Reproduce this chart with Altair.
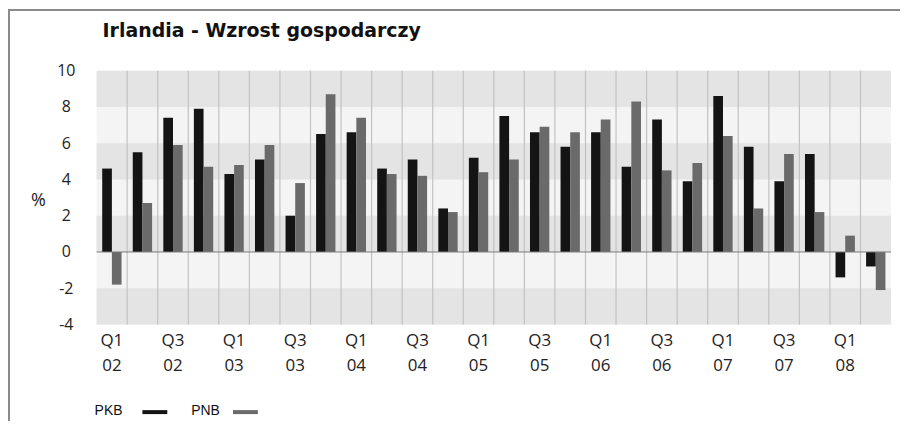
import altair as alt
import pandas as pd

# ---- data ----
quarters = ["Q1 02", "Q2 02", "Q3 02", "Q4 02",
            "Q1 03", "Q2 03", "Q3 03", "Q4 03",
            "Q1 04", "Q2 04", "Q3 04", "Q4 04",
            "Q1 05", "Q2 05", "Q3 05", "Q4 05",
            "Q1 06", "Q2 06", "Q3 06", "Q4 06",
            "Q1 07", "Q2 07", "Q3 07", "Q4 07",
            "Q1 08", "Q2 08"]
pkb = [4.6, 5.5, 7.4, 7.9, 4.3, 5.1, 2.0, 6.5, 6.6, 4.6, 5.1, 2.4,
       5.2, 7.5, 6.6, 5.8, 6.6, 4.7, 7.3, 3.9, 8.6, 5.8, 3.9, 5.4, -1.4, -0.8]
pnb = [-1.8, 2.7, 5.9, 4.7, 4.8, 5.9, 3.8, 8.7, 7.4, 4.3, 4.2, 2.2,
       4.4, 5.1, 6.9, 6.6, 7.3, 8.3, 4.5, 4.9, 6.4, 2.4, 5.4, 2.2, 0.9, -2.1]
series = ["PKB", "PNB"]
colors = ["#141414", "#6a6a6a"]
y_ticks = [-4, -2, 0, 2, 4, 6, 8, 10]
band_lo = [8, 4, 0, -4]
band_hi = [10, 6, 2, -2]
title_text = "Irlandia - Wzrost gospodarczy"

df = pd.DataFrame({
    "q": quarters * 2,
    "series": [series[0]] * len(quarters) + [series[1]] * len(quarters),
    "value": pkb + pnb,
})
bands = pd.DataFrame({"lo": band_lo, "hi": band_hi})
grid_df = pd.DataFrame({"q": quarters[1:]})

W, H = 798, 255

x_scale = alt.Scale(domain=quarters, paddingInner=0, paddingOuter=0)
x_axis = alt.Axis(
    title=None, domain=False, ticks=False, grid=False,
    labelExpr="indexof(['Q1','Q3'], split(datum.value,' ')[0]) >= 0 ? split(datum.value,' ') : ''",
    labelFont="Open Sans", labelFontSize=17, labelColor="#222222",
    labelPadding=8, labelBaseline="top", labelLineHeight=25, labelAngle=0,
)
y_scale = alt.Scale(domain=[-4, 10], nice=False, zero=False)
y_axis = alt.Axis(
    values=y_ticks, title="%", titleAngle=0, titleX=-59, titleY=130,
    titleAlign="center", titleBaseline="middle", titleFont="Open Sans",
    titleFontSize=18, titleFontWeight="normal", titleColor="#222222",
    labelExpr="datum.value + ''",
    labelAlign="center", labelPadding=31, ticks=False, tickSize=0,
    domain=False, grid=False, labelFont="Open Sans", labelFontSize=16,
    labelColor="#222222",
)

band_layer = alt.Chart(bands).mark_rect(color="#e4e4e4").encode(
    x=alt.value(0), x2=alt.value(W),
    y=alt.Y("lo:Q", scale=y_scale, axis=y_axis),
    y2="hi:Q",
)

grid_layer = alt.Chart(grid_df).mark_rule(color="#c2c2c2", strokeWidth=1.2).encode(
    x=alt.X("q:N", sort=quarters, scale=x_scale, axis=x_axis, bandPosition=0),
    y=alt.value(0), y2=alt.value(H),
)

bar_layer = alt.Chart(df).mark_bar().encode(
    x=alt.X("q:N", sort=quarters, scale=x_scale, axis=x_axis),
    xOffset=alt.XOffset("series:N", sort=series,
                        scale=alt.Scale(domain=series, paddingInner=0, paddingOuter=0.58)),
    y=alt.Y("value:Q", scale=y_scale, axis=y_axis),
    y2=alt.datum(0),
    color=alt.Color("series:N", scale=alt.Scale(domain=series, range=colors), legend=None),
)

zero_layer = alt.Chart(pd.DataFrame({"z": [0]})).mark_rule(color="#7a7a7a", strokeWidth=1).encode(
    y=alt.Y("z:Q", scale=y_scale, axis=y_axis),
    x=alt.value(0), x2=alt.value(W),
)

title_layer = alt.Chart(pd.DataFrame({"t": [title_text]})).mark_text(
    align="left", baseline="middle", font="DejaVu Sans", fontSize=19,
    fontWeight="bold", color="#111111",
).encode(text="t:N", x=alt.value(6), y=alt.value(-40))

# manual legend (label before swatch, as in the original)
leg_y = 342
legend_layers = []
for name, col, tx, sx in zip(series, colors, [-2, 95], [46, 137]):
    legend_layers.append(
        alt.Chart(pd.DataFrame({"t": [name]})).mark_text(
            align="left", baseline="middle", font="Liberation Sans",
            fontSize=14, color="#111111",
        ).encode(text="t:N", x=alt.value(tx), y=alt.value(leg_y))
    )
    legend_layers.append(
        alt.Chart(pd.DataFrame({"t": [name]})).mark_rule(color=col, strokeWidth=4).encode(
            x=alt.value(sx), x2=alt.value(sx + 25), y=alt.value(leg_y + 1),
        )
    )

# outer frame (top and left edges)
frame_top = alt.Chart(pd.DataFrame({"t": [0]})).mark_rule(color="#8a8a8a", strokeWidth=2).encode(
    x=alt.value(-89), x2=alt.value(W + 9), y=alt.value(-61),
)
frame_left = alt.Chart(pd.DataFrame({"t": [0]})).mark_rule(color="#8a8a8a", strokeWidth=2).encode(
    x=alt.value(-88), y=alt.value(-62), y2=alt.value(H + 120),
)

chart = alt.layer(
    band_layer, grid_layer, bar_layer, zero_layer, title_layer,
    *legend_layers, frame_top, frame_left,
).properties(
    width=W, height=H,
    padding={"left": 89, "top": 62, "right": 9, "bottom": 96},
    autosize=alt.AutoSizeParams(type="none"),
    background="white",
).configure_view(fill="#f4f4f4", strokeWidth=0)

chart.save("out.html", embed_options={"renderer": "svg", "actions": False})
